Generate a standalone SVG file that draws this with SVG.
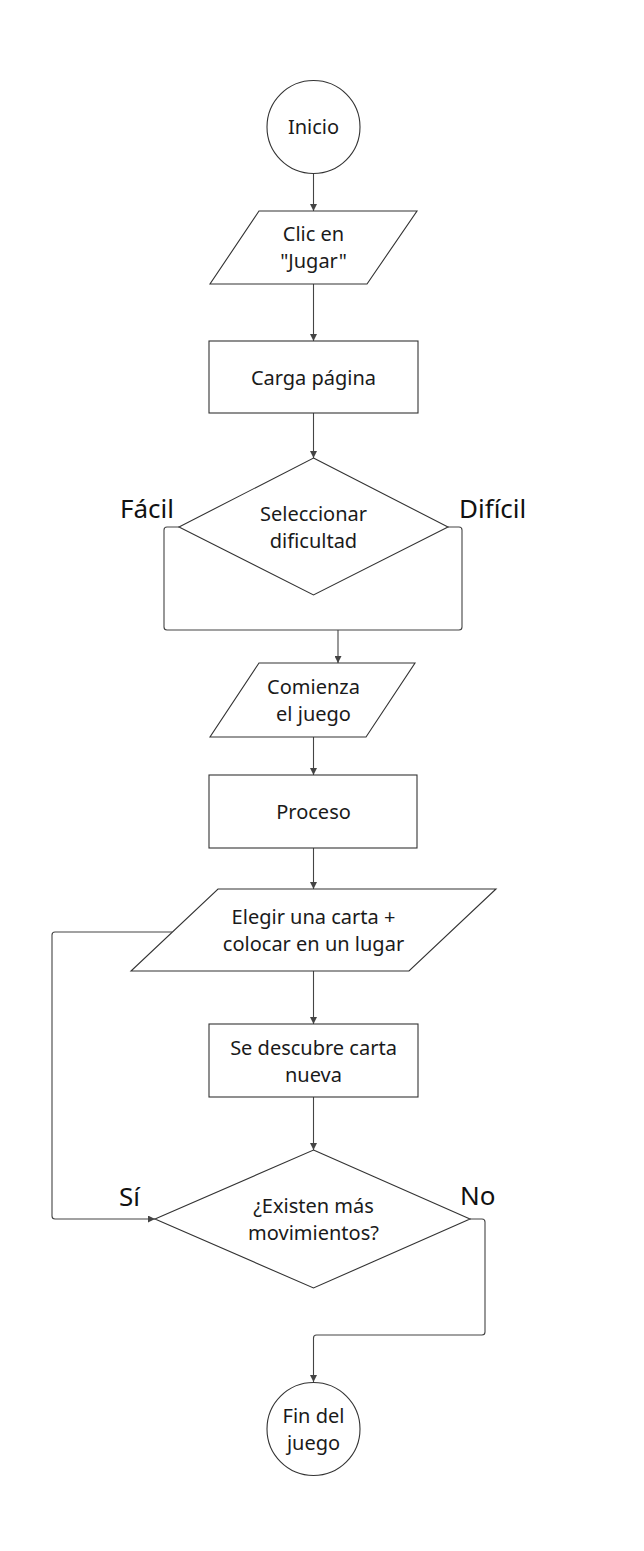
<svg xmlns="http://www.w3.org/2000/svg" width="644" height="1551" viewBox="0 0 644 1551">
<style>
.shape{fill:#fff;stroke:#333;stroke-width:1.1}
.conn{fill:none;stroke:#444;stroke-width:1.1}
.t{font-family:"Noto Sans","Open Sans",sans-serif;font-size:20px;fill:#1a1a1a;text-anchor:middle}
.lbl{font-family:"Noto Sans","Open Sans",sans-serif;font-size:26px;fill:#111}
</style>
<defs>
<marker id="arr" viewBox="0 0 8 8" refX="8" refY="4" markerWidth="7" markerHeight="7" markerUnits="userSpaceOnUse" orient="auto">
<path d="M0,0 L8,4 L0,8 z" fill="#444"/>
</marker>
</defs>
<rect x="0" y="0" width="644" height="1551" fill="#fff"/>
<g id="connectors">
<path class="conn" d="M313.5,174 V211" marker-end="url(#arr)"/>
<path class="conn" d="M313.5,284 V341" marker-end="url(#arr)"/>
<path class="conn" d="M313.5,413 V458" marker-end="url(#arr)"/>
<path class="conn" d="M179,527 H167 Q164,527 164,530 V627 Q164,630 167,630 H338"/>
<path class="conn" d="M448,527 H459 Q462,527 462,530 V627 Q462,630 459,630 H338"/>
<path class="conn" d="M338,630 V663" marker-end="url(#arr)"/>
<path class="conn" d="M313.5,737 V775" marker-end="url(#arr)"/>
<path class="conn" d="M313.5,848 V889" marker-end="url(#arr)"/>
<path class="conn" d="M313.5,971 V1024" marker-end="url(#arr)"/>
<path class="conn" d="M313.5,1097 V1150" marker-end="url(#arr)"/>
<path class="conn" d="M172,932 H55 Q52,932 52,935 V1216 Q52,1219 55,1219 H155" marker-end="url(#arr)"/>
<path class="conn" d="M470,1219 H482 Q485,1219 485,1222 V1332 Q485,1335 482,1335 H316.5 Q313.5,1335 313.5,1338 V1382" marker-end="url(#arr)"/>
</g>
<g id="inicio">
<circle class="shape" cx="313.5" cy="127" r="46.5"/>
<text class="t" x="313.5" y="134">Inicio</text>
</g>
<g id="clic">
<polygon class="shape" points="259,211 417,211 367,284 210,284"/>
<text class="t" x="313.5" y="241">Clic en</text>
<text class="t" x="313.5" y="268">"Jugar"</text>
</g>
<g id="carga">
<rect class="shape" x="209" y="341" width="209" height="72"/>
<text class="t" x="313.5" y="385">Carga página</text>
</g>
<g id="dificultad">
<polygon class="shape" points="313.5,458 448,527 313.5,595 179,527"/>
<text class="t" x="313.5" y="521">Seleccionar</text>
<text class="t" x="313.5" y="548">dificultad</text>
</g>
<g id="label-facil"><text class="lbl" x="120" y="518">Fácil</text></g>
<g id="label-dificil"><text class="lbl" x="459" y="518">Difícil</text></g>
<g id="comienza">
<polygon class="shape" points="259,663 415,663 366,737 210,737"/>
<text class="t" x="313.5" y="694">Comienza</text>
<text class="t" x="313.5" y="721">el juego</text>
</g>
<g id="proceso">
<rect class="shape" x="209" y="775" width="208" height="73"/>
<text class="t" x="313.5" y="819">Proceso</text>
</g>
<g id="elegir">
<polygon class="shape" points="218,889 496,889 409,971 131,971"/>
<text class="t" x="313.5" y="924">Elegir una carta +</text>
<text class="t" x="313.5" y="951">colocar en un lugar</text>
</g>
<g id="descubre">
<rect class="shape" x="209" y="1024" width="209" height="73"/>
<text class="t" x="313.5" y="1055">Se descubre carta</text>
<text class="t" x="313.5" y="1082">nueva</text>
</g>
<g id="existen">
<polygon class="shape" points="313.5,1150 470,1219 313.5,1288 155,1219"/>
<text class="t" x="313.5" y="1213">¿Existen más</text>
<text class="t" x="313.5" y="1240">movimientos?</text>
</g>
<g id="label-si"><text class="lbl" x="119" y="1206">Sí</text></g>
<g id="label-no"><text class="lbl" x="460" y="1205">No</text></g>
<g id="fin">
<circle class="shape" cx="313.5" cy="1429" r="46.5"/>
<text class="t" x="313.5" y="1423">Fin del</text>
<text class="t" x="313.5" y="1450">juego</text>
</g>
</svg>
